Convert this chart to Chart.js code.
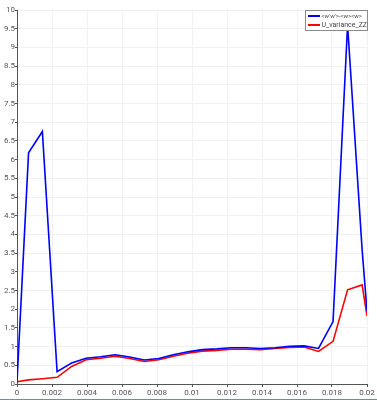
<!DOCTYPE html>
<html>
<head>
<meta charset="utf-8">
<script src="https://cdn.jsdelivr.net/npm/chart.js@4.4.0/dist/chart.umd.min.js"></script>
<style>
  html, body { margin: 0; padding: 0; background: #fff; }
  #wrap { width: 377px; height: 399px; border-bottom: 1px solid #7a7ae6; position: relative; }
</style>
</head>
<body>
<div id="wrap"><canvas id="c" width="377" height="399"></canvas></div>
<script>
const xValues = [0, 0.00066, 0.00145, 0.00229, 0.00312, 0.00395, 0.00478, 0.00561, 0.00644, 0.00727, 0.0081, 0.00893, 0.00976, 0.01059, 0.01142, 0.01225, 0.01308, 0.01391, 0.01474, 0.01557, 0.0164, 0.01723, 0.01806, 0.01889, 0.01972, 0.02];
const blueValues = [0.05, 6.18, 6.75, 0.33, 0.56, 0.69, 0.73, 0.78, 0.72, 0.64, 0.68, 0.78, 0.86, 0.92, 0.94, 0.97, 0.97, 0.95, 0.97, 1.01, 1.02, 0.95, 1.67, 9.6, 3.6, 1.95];
const redValues = [0.06, 0.11, 0.14, 0.18, 0.47, 0.65, 0.69, 0.74, 0.68, 0.6, 0.65, 0.74, 0.82, 0.88, 0.9, 0.93, 0.93, 0.92, 0.95, 0.98, 0.99, 0.87, 1.14, 2.52, 2.65, 1.82];
const seriesLabels = ["<w'w'>-<w><w>", "U_variance_ZZ"];
const seriesColors = ['#0000ff', '#ff0000'];
const legendFontSizes = [6, 7];

const toPts = (ys) => xValues.map((x, i) => ({ x: x, y: ys[i] }));

const boxLegend = {
  id: 'boxLegend',
  afterDraw(chart) {
    const ctx = chart.ctx;
    const area = chart.chartArea;
    const w = 62, h = 20;
    const x0 = Math.round(area.right - w) + 0.5;
    const y0 = Math.round(area.top) + 0.5;
    ctx.save();
    ctx.fillStyle = '#ffffff';
    ctx.fillRect(x0, y0, w, h);
    ctx.strokeStyle = '#8a8a8a';
    ctx.lineWidth = 1;
    ctx.strokeRect(x0, y0, w, h);
    chart.data.datasets.forEach((ds, i) => {
      const yy = y0 + 5.5 + i * 9;
      ctx.strokeStyle = ds.borderColor;
      ctx.lineWidth = 2;
      ctx.beginPath();
      ctx.moveTo(x0 + 2.5, yy);
      ctx.lineTo(x0 + 14.5, yy);
      ctx.stroke();
      ctx.fillStyle = '#444';
      ctx.font = legendFontSizes[i] + 'px Roboto';
      ctx.textBaseline = 'middle';
      ctx.textAlign = 'left';
      ctx.fillText(ds.label, x0 + 16, yy + 0.5);
    });
    ctx.restore();
  }
};

const fmt = (v) => String(+Number(v).toFixed(4));

new Chart(document.getElementById('c'), {
  type: 'line',
  data: {
    datasets: [
      { label: seriesLabels[0], data: toPts(blueValues), borderColor: seriesColors[0], borderWidth: 1.6, pointRadius: 0, tension: 0, fill: false },
      { label: seriesLabels[1], data: toPts(redValues), borderColor: seriesColors[1], borderWidth: 1.6, pointRadius: 0, tension: 0, fill: false }
    ]
  },
  options: {
    responsive: false,
    animation: false,
    events: [],
    layout: { padding: { top: 10, right: 10, left: 0, bottom: 0 } },
    plugins: { legend: { display: false }, tooltip: { enabled: false } },
    scales: {
      x: {
        type: 'linear', min: 0, max: 0.02,
        afterFit: (s) => { s.height = 15; },
        ticks: { stepSize: 0.002, font: { size: 8, family: 'Roboto' }, color: '#555', padding: 1, maxRotation: 0, autoSkip: false, callback: fmt },
        grid: { color: '#f1f1f1', tickColor: '#555', tickLength: 3 },
        border: { color: '#555', width: 1 }
      },
      y: {
        type: 'linear', min: 0, max: 10,
        afterFit: (s) => { s.width = 17; },
        ticks: { stepSize: 0.5, font: { size: 8, family: 'Roboto' }, color: '#555', padding: 0, autoSkip: false, callback: fmt },
        grid: { color: '#f1f1f1', tickColor: '#555', tickLength: 2 },
        border: { color: '#555', width: 1 }
      }
    }
  },
  plugins: [boxLegend]
});
</script>
</body>
</html>
